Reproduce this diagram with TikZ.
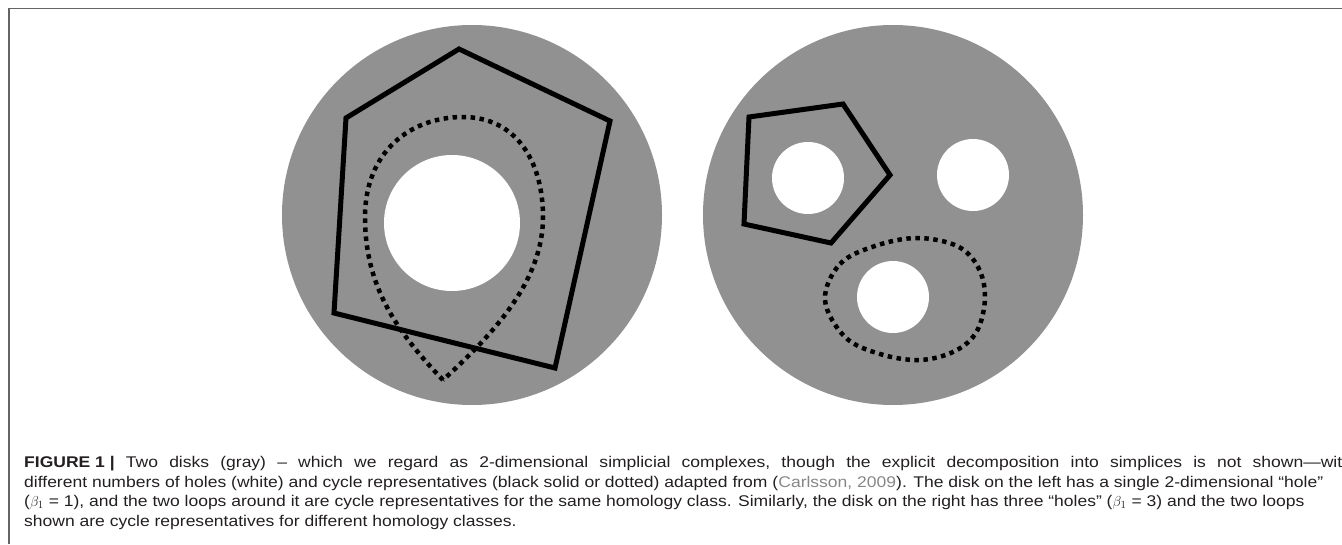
\documentclass[tikz,border=0pt]{standalone}
\usepackage{fontspec}
\setmainfont{Liberation Sans}[FakeStretch=1.13]
\usetikzlibrary{positioning}
\definecolor{diskgray}{RGB}{145,145,145}
\definecolor{framegray}{RGB}{100,100,100}
\definecolor{citegray}{RGB}{135,135,135}
\definecolor{textblack}{RGB}{35,31,32}
% widened word space of the justified first caption line
\newcommand{\wsp}{\hspace{11.2pt}}

\begin{document}
\begin{tikzpicture}[x=1pt,y=-1pt,
  disk/.style={fill=diskgray,draw=none},
  hole/.style={fill=white,draw=none},
  solidloop/.style={draw=black,line width=5pt,line join=miter},
  dotloop/.style={draw=black,line width=4.5pt,dash pattern=on 4.5pt off 4.5pt},
  capline/.style={anchor=base west,inner sep=0pt,text=textblack,
                  font=\fontsize{15.5}{19.5}\selectfont}
]
\useasboundingbox (0,0) rectangle (1342,544);
% frame (top and left only)
\draw[framegray,line width=1.5pt] (9,544) -- (9,8.5) -- (1342,8.5);

% Left disk: one hole
\coordinate (Lc) at (472,215);
\coordinate (Lh) at (452,223);
\fill[disk] (Lc) circle[radius=190pt];
\fill[hole] (Lh) circle[radius=68pt];
\draw[solidloop] (459,49) -- (610,121) -- (555,368) -- (334,313) -- (346,118) -- cycle;
\draw[dotloop] (443,380) .. controls (395,330) and (365,285) .. (365,217)
  .. controls (365,152) and (410,117) .. (463,117)
  .. controls (515,117) and (543,160) .. (543,217)
  .. controls (543,282) and (492,335) .. (443,380) -- cycle;

% Right disk: three holes
\coordinate (Rc) at (893,215);
\coordinate (Rh1) at (808,178);
\coordinate (Rh2) at (973,175);
\coordinate (Rh3) at (893,297);
\fill[disk] (Rc) circle[radius=190pt];
\foreach \h in {Rh1,Rh2,Rh3}
  \fill[hole] (\h) circle[radius=36pt];
\draw[solidloop] (843,104) -- (890,175) -- (831,243) -- (744,224) -- (749,117) -- cycle;
\draw[dotloop] plot[smooth cycle,tension=0.6] coordinates {(825,300) (840,264) (875,246) (917,238)
  (957,246) (978,267) (985,297) (977,331) (955,351) (920,360) (880,354) (845,337)};

% caption
\node[capline] (cap1) at (24,467.5) {\textbf{FIGURE 1 |}\wsp Two\wsp disks\wsp (gray)\wsp –\wsp which\wsp we\wsp regard\wsp as\wsp 2-dimensional\wsp simplicial\wsp complexes,\wsp though\wsp the\wsp explicit\wsp decomposition\wsp into\wsp simplices\wsp is\wsp not\wsp shown—with};
\node[capline] (cap2) at (24,487) {different numbers of holes (white) and cycle representatives (black solid or dotted) adapted from ({\color{citegray}Carlsson, 2009}). The disk on the left has a single 2-dimensional “hole”};
\node[capline] (cap3) at (24,506.5) {($\beta_1$ = 1), and the two loops around it are cycle representatives for the same homology class. Similarly, the disk on the right has three “holes” ($\beta_1$ = 3) and the two loops};
\node[capline] (cap4) at (24,526) {shown are cycle representatives for different homology classes.};
\end{tikzpicture}
\end{document}
